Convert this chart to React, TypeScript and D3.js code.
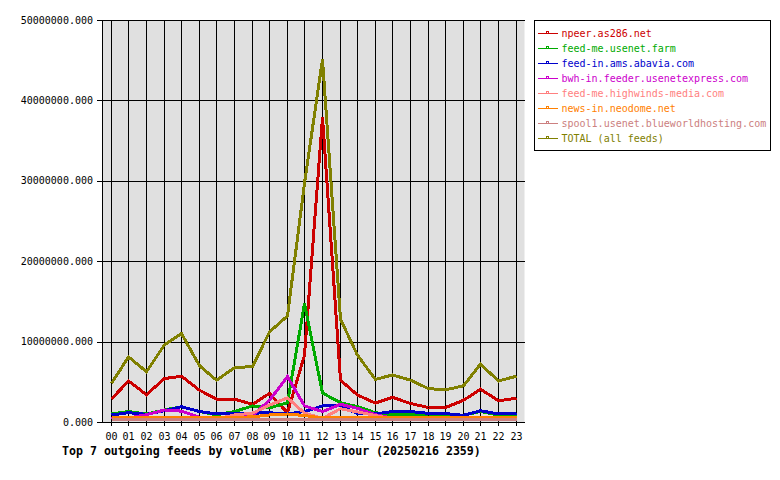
import * as d3 from "d3";

// hourly outgoing volume per feed, in KB
const hours = ["00", "01", "02", "03", "04", "05", "06", "07", "08", "09", "10", "11",
  "12", "13", "14", "15", "16", "17", "18", "19", "20", "21", "22", "23"];

const npeer = [2860000, 5100000, 3400000, 5400000, 5700000, 3950000, 2850000, 2850000, 2200000, 3550000,
  1150000, 8300000, 37900000, 5200000, 3350000, 2350000, 3070000, 2300000, 1800000, 1800000,
  2700000, 4070000, 2650000, 2950000];
const feedMeFarm = [1000000, 1300000, 1000000, 1500000, 1900000, 1300000, 900000, 1300000, 2000000, 1750000,
  2400000, 14750000, 3600000, 2400000, 1900000, 1150000, 900000, 900000, 800000, 800000,
  850000, 1300000, 850000, 900000];
const abavia = [870000, 1160000, 950000, 1400000, 1900000, 1300000, 1000000, 1100000, 1100000, 1150000,
  1000000, 1300000, 2000000, 2000000, 1050000, 1000000, 1300000, 1300000, 1070000, 1050000,
  830000, 1400000, 1000000, 1070000];
const usenetexpress = [450000, 500000, 900000, 1500000, 1350000, 600000, 500000, 650000, 850000, 2700000,
  5650000, 2000000, 1300000, 2200000, 1700000, 900000, 500000, 500000, 450000, 450000,
  450000, 500000, 450000, 450000];
const highwinds = [300000, 300000, 350000, 400000, 400000, 350000, 400000, 870000, 1100000, 2100000,
  3000000, 1100000, 450000, 1650000, 1250000, 800000, 400000, 400000, 350000, 350000,
  350000, 400000, 350000, 350000];
const neodome = [550000, 550000, 550000, 550000, 550000, 550000, 550000, 550000, 650000, 870000,
  1000000, 800000, 500000, 550000, 550000, 600000, 600000, 600000, 600000, 600000,
  600000, 600000, 600000, 600000];
const blueworld = [250000, 250000, 250000, 250000, 250000, 250000, 250000, 250000, 250000, 250000,
  250000, 250000, 250000, 250000, 250000, 250000, 250000, 250000, 250000, 250000,
  250000, 250000, 250000, 250000];
const total = [4800000, 8100000, 6250000, 9600000, 11000000, 7000000, 5200000, 6750000, 6900000, 11200000,
  13200000, 29700000, 45100000, 12800000, 8300000, 5300000, 5850000, 5200000, 4150000, 4000000,
  4500000, 7200000, 5100000, 5700000];

const feedNames = [
  "npeer.as286.net",
  "feed-me.usenet.farm",
  "feed-in.ams.abavia.com",
  "bwh-in.feeder.usenetexpress.com",
  "feed-me.highwinds-media.com",
  "news-in.neodome.net",
  "spool1.usenet.blueworldhosting.com",
  "TOTAL (all feeds)",
];
const feedValues = [npeer, feedMeFarm, abavia, usenetexpress, highwinds, neodome, blueworld, total];
const feedColors = ["#cc0000", "#00aa00", "#0000cc", "#cc00cc", "#ff8080", "#ff8000", "#cc8080", "#808000"];

const yTicks = [0, 10000000, 20000000, 30000000, 40000000, 50000000];
const title = "Top 7 outgoing feeds by volume (KB) per hour (20250216 2359)";

const W = 780;
const H = 480;
const plot = { left: 102, right: 524.5, top: 20, bottom: 422 };
const mono = "'DejaVu Sans Mono', monospace";

export default function App() {
  const band = d3.scaleBand<string>().domain(hours).range([plot.left, plot.right]);
  const x = (h: string) => Math.round((band(h) as number) + band.bandwidth() / 2) + 0.5;
  const y = d3.scaleLinear().domain([0, 50000000]).range([plot.bottom, plot.top]);
  const fmt = d3.format(".3f");

  const line = d3
    .line<number>()
    .x((_, i) => x(hours[i]))
    .y((d) => y(d));

  return (
    <svg
      width={W}
      height={H}
      style={{ position: "absolute", left: 0, top: 0, background: "#fff" }}
      fontFamily={mono}
    >
      <rect x={plot.left} y={plot.top} width={plot.right - plot.left} height={plot.bottom - plot.top} fill="#e0e0e0" />

      {/* grid */}
      {hours.map((h) => (
        <line key={"vg" + h} x1={x(h)} x2={x(h)} y1={plot.top} y2={plot.bottom} stroke="#000" shapeRendering="crispEdges" />
      ))}
      {yTicks.map((t) => (
        <line key={"hg" + t} x1={plot.left - 5} x2={plot.right} y1={Math.round(y(t)) + 0.5} y2={Math.round(y(t)) + 0.5} stroke="#000" shapeRendering="crispEdges" />
      ))}

      {/* axes */}
      <line x1={plot.left + 0.5} x2={plot.left + 0.5} y1={plot.top} y2={plot.bottom} stroke="#000" shapeRendering="crispEdges" />
      {hours.map((h) => (
        <line key={"xt" + h} x1={x(h)} x2={x(h)} y1={plot.bottom} y2={plot.bottom + 4} stroke="#000" shapeRendering="crispEdges" />
      ))}
      {yTicks.map((t) => (
        <text key={"yl" + t} x={93} y={y(t)} dy="0.35em" textAnchor="end" fontSize={10} fill="#000">
          {fmt(t)}
        </text>
      ))}
      {hours.map((h) => (
        <text key={"xl" + h} x={x(h)} y={439.5} textAnchor="middle" fontSize={10} fill="#000">
          {h}
        </text>
      ))}

      {/* series */}
      {feedValues.map((vals, i) => (
        <path
          key={feedNames[i]}
          d={line(vals) as string}
          fill="none"
          stroke={feedColors[i]}
          strokeWidth={3}
          shapeRendering="crispEdges"
        />
      ))}

      <text x={62} y={455} fontSize={11.6} fontWeight="bold" fill="#000">
        {title}
      </text>

      {/* legend */}
      <rect x={534.5} y={20.5} width={236} height={129.5} fill="#fff" stroke="#000" shapeRendering="crispEdges" />
      {feedNames.map((name, i) => {
        const ly = 33.5 + i * 15;
        return (
          <g key={"lg" + name}>
            <line x1={538} x2={558} y1={ly} y2={ly} stroke={feedColors[i]} shapeRendering="crispEdges" />
            <rect x={546.5} y={ly - 2} width={2} height={2} fill="#fff" stroke={feedColors[i]} shapeRendering="crispEdges" />
            <text x={561.5} y={ly} dy="0.35em" fontSize={10} fill={feedColors[i]}>
              {name}
            </text>
          </g>
        );
      })}
    </svg>
  );
}
